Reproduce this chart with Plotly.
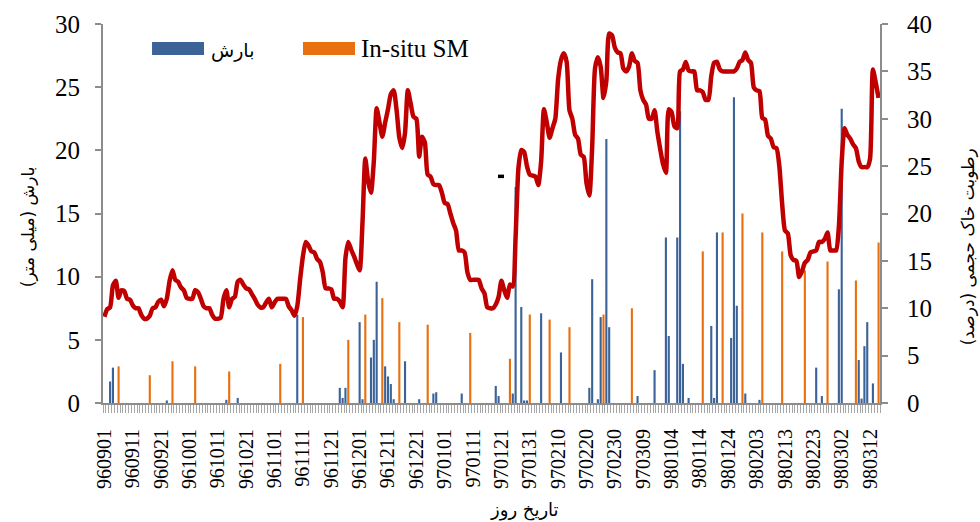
import plotly.graph_objects as go

# ---------------- data ----------------
# Persian-calendar day labels (yymmdd) shown on the category axis
month_spans = [("9609", 30), ("9610", 30), ("9611", 30), ("9612", 30),
               ("9701", 31), ("9702", 31), ("9703", 15),
               ("9801", 31), ("9802", 31), ("9803", 15)]
day_labels = [f"{m}{d:02d}" for m, n in month_spans for d in range(1, n + 1)]
tick_labels = day_labels[::10]

# rainfall (mm) – left axis
rain_dates = ["960903", "960904", "960923", "961014", "961018", "961109",
              "961124", "961125", "961126", "961201", "961202", "961205",
              "961206", "961207", "961210", "961211", "961212", "961213",
              "961217", "961222", "961227", "961228", "970107", "970119",
              "970120", "970125", "970126", "970128", "970129", "970130",
              "970204", "970211", "970221", "970222", "970224", "970225",
              "970227", "970228", "970307", "970313", "980102", "980103",
              "980106", "980107", "980108", "980110", "980118", "980119",
              "980120", "980125", "980126", "980127", "980130", "980204",
              "980224", "980226", "980301", "980302", "980308", "980309",
              "980310", "980311", "980313"]
rain_mm = [1.7, 2.8, 0.2, 0.25, 0.4, 7.0,
           1.2, 0.4, 1.2, 6.4, 0.3, 3.6,
           5.0, 9.6, 2.9, 2.1, 1.5, 0.3,
           3.3, 0.3, 0.75, 0.85, 0.75, 1.35,
           0.55, 0.75, 17.1, 7.6, 0.2, 0.2,
           7.1, 4.0, 1.2, 9.8, 0.3, 6.8,
           20.9, 6.0, 0.55, 2.6, 13.1, 5.3,
           13.1, 23.1, 3.1, 0.4, 6.1, 0.4,
           13.5, 5.15, 24.2, 7.7, 0.75, 0.25,
           2.8, 0.55, 9.0, 23.3, 3.4, 0.35,
           4.5, 6.4, 1.55]

# in-situ soil moisture samples – drawn on the left axis
insitu_dates = ["960906", "960917", "960925", "961003", "961015", "961103",
                "961111", "961127", "961203", "961209", "961215", "961225",
                "970110", "970124", "970131", "970207", "970214", "970226",
                "970305", "980115", "980122", "980129", "980205", "980212",
                "980220", "980228", "980307", "980315"]
insitu_sm = [2.9, 2.2, 3.3, 2.9, 2.5, 3.1,
             6.8, 5.0, 7.0, 8.3, 6.4, 6.2,
             5.55, 3.5, 7.0, 6.6, 6.0, 7.0,
             7.5, 12.0, 13.5, 15.0, 13.5, 12.0,
             10.5, 11.2, 9.7, 12.7]

# daily volumetric soil moisture (%) – right axis (red line)
soil_moisture = [
    9.1, 9.9, 10.1, 12.4, 12.9, 11.1, 11.9, 11.8, 11.0, 10.9,
    10.3, 10.0, 10.0, 9.3, 8.9, 8.9, 9.2, 10.0, 10.1, 10.7,
    10.9, 10.2, 11.0, 12.9, 14.0, 13.0, 12.8, 12.2, 11.9, 11.1,
    11.0, 11.0, 11.9, 11.7, 11.0, 10.2, 10.0, 10.0, 9.3, 8.9,
    8.9, 9.0, 11.0, 11.9, 10.1, 11.0, 11.2, 12.8, 13.0, 12.5,
    12.1, 12.0, 11.5, 11.0, 10.4, 10.1, 10.1, 10.6, 11.0, 10.1,
    10.6, 11.0, 11.0, 11.0, 11.0, 10.2, 9.8, 9.2, 10.2, 13.0,
    15.5, 17.0, 16.6, 16.0, 15.9, 15.2, 14.9, 13.8, 12.1, 12.1,
    12.0, 11.0, 11.0, 10.7, 10.1, 15.3, 17.0, 16.2, 15.5, 14.7,
    14.0, 19.0, 25.8, 23.4, 22.2, 25.5, 31.1, 29.6, 28.1, 29.6,
    31.0, 32.6, 33.0, 31.0, 28.0, 26.9, 28.5, 33.0, 31.6, 30.2,
    30.0, 26.0, 28.1, 27.5, 24.1, 23.9, 23.1, 23.0, 23.0, 22.2,
    21.1, 21.0, 20.0, 19.0, 18.2, 16.1, 16.1, 15.9, 13.8, 13.0,
    13.0, 13.0, 13.0, 12.1, 11.6, 10.1, 10.0, 10.0, 10.4, 11.2,
    12.9, 11.9, 11.1, 12.5, 12.3, 17.5, 24.8, 26.7, 26.5, 25.0,
    24.1, 24.0, 23.9, 23.0, 25.5, 31.0, 29.6, 28.0, 29.0, 30.0,
    34.2, 36.2, 36.9, 36.0, 30.9, 30.0, 28.3, 27.9, 26.2, 26.0,
    23.2, 21.9, 27.0, 35.3, 36.5, 35.5, 32.2, 34.0, 39.0, 38.8,
    37.5, 37.0, 36.9, 35.3, 35.0, 35.5, 36.9, 36.1, 35.9, 33.0,
    32.0, 31.5, 30.0, 30.0, 30.9, 28.6, 26.8, 25.2, 24.3, 31.0,
    30.7, 29.2, 29.0, 35.0, 35.2, 36.0, 35.1, 35.0, 35.0, 33.0,
    33.0, 32.8, 32.0, 32.0, 34.5, 35.9, 36.0, 35.2, 35.0, 35.0,
    35.0, 35.0, 35.0, 35.3, 36.0, 36.2, 37.0, 36.2, 35.9, 33.3,
    33.0, 32.9, 30.1, 29.9, 28.2, 27.9, 27.0, 26.9, 25.0, 21.0,
    18.2, 17.9, 15.6, 15.1, 15.0, 13.3, 13.9, 14.8, 15.1, 15.9,
    16.0, 16.1, 17.0, 17.0, 17.3, 18.0, 16.1, 16.1, 16.1, 18.6,
    25.5, 29.0, 28.3, 27.9, 27.3, 26.9, 25.5, 24.9, 24.9, 24.9,
    25.8, 35.2, 33.8, 32.2]

# ---------------- figure ----------------
N = len(day_labels)
pos = {d: i for i, d in enumerate(day_labels)}

BLUE = "#3B6398"
ORANGE = "#E8700E"
RED = "#C00000"
AXIS = "#8C8C8C"
SERIF = "Liberation Serif, Times New Roman, serif"
FA = "DejaVu Sans, sans-serif"

fig = go.Figure()
fig.add_trace(go.Bar(x=[pos[d] for d in rain_dates], y=rain_mm, name="بارش",
                     marker=dict(color=BLUE, line=dict(width=0)), width=0.75,
                     yaxis="y"))
fig.add_trace(go.Bar(x=[pos[d] for d in insitu_dates], y=insitu_sm, name="In-situ SM",
                     marker=dict(color=ORANGE, line=dict(width=0)), width=0.75,
                     yaxis="y"))
fig.add_trace(go.Scatter(x=list(range(N)), y=soil_moisture, mode="lines",
                         name="SM", line=dict(color=RED, width=4.5, shape="spline", smoothing=0.6),
                         yaxis="y2"))

fig.update_layout(
    template="none",
    width=980, height=522,
    margin=dict(l=103, r=100, t=24, b=119, autoexpand=False),
    paper_bgcolor="white", plot_bgcolor="white",
    barmode="overlay", showlegend=False,
    xaxis=dict(range=[-0.5, N - 0.5], tickmode="array", automargin=False,
               tickvals=list(range(0, N, 10)), ticktext=tick_labels,
               tickangle=-90, ticks="", ticklabelstandoff=16,
               tickfont=dict(family=SERIF, size=20, color="black"),
               showline=True, linecolor=AXIS, linewidth=2,
               showgrid=False, zeroline=False,
               minor=dict(tickvals=[i - 0.5 for i in range(N + 1)], ticks="outside",
                          ticklen=8, tickwidth=1, tickcolor="#A6A6A6", showgrid=False)),
    yaxis=dict(range=[0, 30], dtick=5, ticks="outside", ticklen=6, tickcolor=AXIS,
               tickwidth=1.5, showline=True, linecolor=AXIS, linewidth=2, automargin=False,
               showgrid=False, zeroline=False, ticklabelstandoff=10,
               tickfont=dict(family=SERIF, size=25, color="black")),
    yaxis2=dict(range=[0, 40], dtick=5, overlaying="y", side="right", ticks="outside",
                ticklen=6, tickcolor=AXIS, tickwidth=1.5, showline=True, linecolor=AXIS,
                linewidth=2, showgrid=False, zeroline=False, ticklabelstandoff=14,
                automargin=False,
                tickfont=dict(family=SERIF, size=25, color="black")),
)

# axis titles
fig.add_annotation(text="\u200fبارش (میلی متر)\u200f", xref="paper", yref="paper",
                   x=-0.0965, y=0.464, textangle=-90, showarrow=False,
                   xanchor="center", yanchor="middle",
                   font=dict(family=FA, size=17, color="black"))
fig.add_annotation(text="\u200fرطوبت خاک حجمی (درصد)\u200f", xref="paper", yref="paper",
                   x=1.1133, y=0.411, textangle=-90, showarrow=False,
                   xanchor="center", yanchor="middle",
                   font=dict(family=FA, size=17, color="black"))
fig.add_annotation(text="\u200fتاریخ روز\u200f", xref="paper", yref="paper",
                   x=0.543, y=-0.283, showarrow=False,
                   xanchor="center", yanchor="middle",
                   font=dict(family=FA, size=18, color="black"))

# legend (swatches + labels)
fig.add_shape(type="rect", xref="paper", yref="paper", x0=0.0631, x1=0.1300,
              y0=0.918, y1=0.9525, fillcolor=BLUE, line=dict(width=0))
fig.add_annotation(text="\u200fبارش\u200f", xref="paper", yref="paper", x=0.137, y=0.93,
                   xanchor="left", yanchor="middle", showarrow=False,
                   font=dict(family=FA, size=19, color="black"))
fig.add_shape(type="rect", xref="paper", yref="paper", x0=0.2574, x1=0.3243,
              y0=0.918, y1=0.9525, fillcolor=ORANGE, line=dict(width=0))
fig.add_annotation(text="In-situ SM", xref="paper", yref="paper", x=0.329, y=0.935,
                   xanchor="left", yanchor="middle", showarrow=False,
                   font=dict(family=SERIF, size=25, color="black"))

# small black mark present in the original picture
fig.add_shape(type="rect", xref="paper", yref="paper", x0=0.5084, x1=0.5161,
              y0=0.5934, y1=0.6026, fillcolor="black", line=dict(width=0))

# page has a default 8px body margin; remove it so the figure sits at (0, 0)
fig.write_html("out.html", config={"displayModeBar": False},
               post_script="document.body.style.margin='0';")
